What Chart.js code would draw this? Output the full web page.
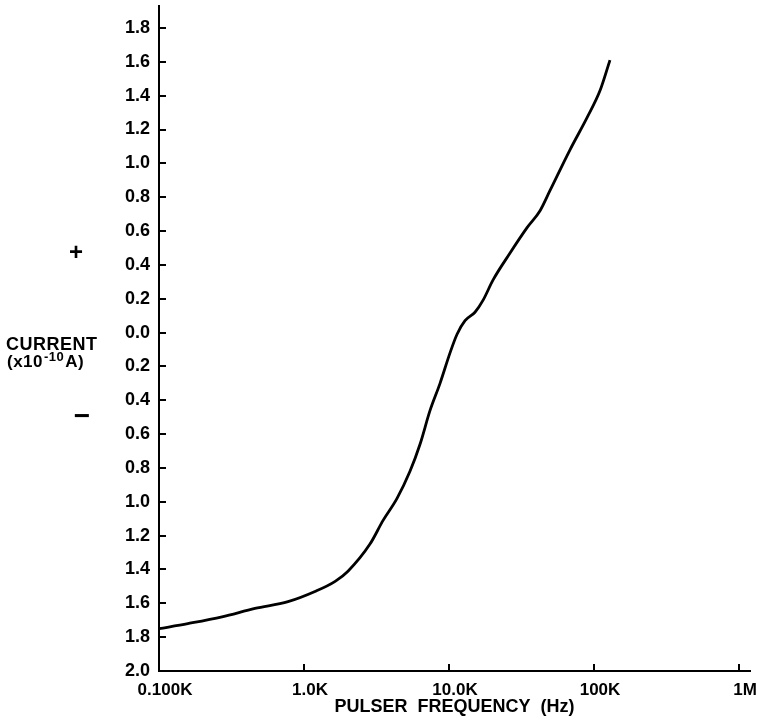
<!DOCTYPE html>
<html>
<head>
<meta charset="utf-8">
<title>Current vs pulser frequency</title>
<script src="https://cdn.jsdelivr.net/npm/chart.js@4.4.1/dist/chart.umd.min.js"></script>
<style>
  html, body { margin: 0; padding: 0; background: #fff; }
  canvas { display: block; }
</style>
</head>
<body>
<canvas id="chart" width="757" height="722"></canvas>
<script>
// Measured current (x10^-10 A; negative below the 0.0 line) versus pulser frequency (Hz)
const freqHz = [100, 158, 272, 459, 776, 1190, 1640, 2010, 2850,
                3510, 4380, 5380, 6310, 7400, 8670, 10160, 11360, 12890, 15100,
                17140, 20090, 26350, 34530, 42430, 49740, 68270, 89500, 110000, 128800];
const currentValues = [-1.75, -1.72, -1.68, -1.63, -1.59, -1.53, -1.47, -1.41, -1.25,
                       -1.11, -0.98, -0.82, -0.66, -0.46, -0.30, -0.12, -0.01, 0.07, 0.12,
                       0.19, 0.31, 0.47, 0.62, 0.72, 0.84, 1.08, 1.27, 1.43, 1.61];

// Axis ticks
const xTickValues = [100, 1000, 10000, 100000, 1000000];
const xTickLabels = ['0.100K', '1.0K', '10.0K', '100K', '1M'];
const yTickValues = [-2.0, -1.8, -1.6, -1.4, -1.2, -1.0, -0.8, -0.6, -0.4, -0.2,
                     0.0, 0.2, 0.4, 0.6, 0.8, 1.0, 1.2, 1.4, 1.6, 1.8];
const yTickLabels = ['2.0', '1.8', '1.6', '1.4', '1.2', '1.0', '0.8', '0.6', '0.4', '0.2',
                     '0.0', '0.2', '0.4', '0.6', '0.8', '1.0', '1.2', '1.4', '1.6', '1.8'];

const FONT = '"Liberation Sans", Arial, Helvetica, sans-serif';

// Side label for the current axis, with the "+" / "−" polarity marks
const currentAxisLabel = {
  id: 'currentAxisLabel',
  afterDraw(chart) {
    const ctx = chart.ctx;
    const y = chart.scales.y;
    ctx.save();
    ctx.fillStyle = '#000';
    ctx.textBaseline = 'alphabetic';
    ctx.textAlign = 'left';
    ctx.letterSpacing = '0.5px';
    ctx.font = 'bold 18px ' + FONT;
    ctx.fillText('CURRENT', 6, 350);
    ctx.font = 'bold 17px ' + FONT;
    let x = 7;
    ctx.fillText('(x10', x, 367);
    x += ctx.measureText('(x10').width + 1;
    ctx.font = 'bold 13px ' + FONT;
    ctx.fillText('-10', x, 361);
    x += ctx.measureText('-10').width + 1;
    ctx.font = 'bold 17px ' + FONT;
    ctx.fillText('A)', x, 367);

    ctx.letterSpacing = '0px';
    ctx.textAlign = 'center';
    ctx.textBaseline = 'middle';
    ctx.font = 'bold 24px ' + FONT;
    ctx.fillText('+', 76, y.getPixelForValue(0.47));
    ctx.font = 'bold 28px ' + FONT;
    ctx.fillText('\u2212', 82, y.getPixelForValue(-0.5));
    ctx.restore();
  }
};

const tickFont = (size) => ({ family: FONT, size: size, weight: 'bold' });

new Chart(document.getElementById('chart'), {
  type: 'line',
  data: {
    datasets: [{
      data: freqHz.map((f, i) => ({ x: f, y: currentValues[i] })),
      borderColor: '#000',
      borderWidth: 2.8,
      pointRadius: 0,
      cubicInterpolationMode: 'monotone',
      fill: false
    }]
  },
  options: {
    responsive: false,
    animation: false,
    devicePixelRatio: 1,
    events: [],
    layout: { padding: { top: 6, right: 7, left: 0, bottom: 0 } },
    plugins: { legend: { display: false }, tooltip: { enabled: false } },
    scales: {
      x: {
        type: 'logarithmic',
        min: 100,
        max: 1.19e6,
        afterBuildTicks: (s) => { s.ticks = xTickValues.map(v => ({ value: v })); },
        afterFit: (s) => { s.height = 51; s.paddingLeft = 0; s.paddingRight = 0; },
        ticks: {
          autoSkip: false, maxRotation: 0, minRotation: 0,
          padding: 16, labelOffset: 6, color: '#000', font: tickFont(17),
          callback: (v, i) => xTickLabels[i]
        },
        grid: { drawOnChartArea: false, drawTicks: true, tickLength: -7, color: '#000', lineWidth: 2 },
        border: { display: true, color: '#000', width: 2 },
        title: {
          display: true, text: 'PULSER  FREQUENCY  (Hz)', color: '#000',
          font: tickFont(18), padding: { top: 0, bottom: 4 }
        }
      },
      y: {
        type: 'linear',
        min: -2.0,
        max: 1.93,
        afterBuildTicks: (s) => { s.ticks = yTickValues.map(v => ({ value: v })); },
        afterFit: (s) => { s.width = 159; s.paddingTop = 0; s.paddingBottom = 0; },
        ticks: {
          autoSkip: false, padding: 16, color: '#000', font: tickFont(18),
          callback: (v, i) => yTickLabels[i]
        },
        grid: { drawOnChartArea: false, drawTicks: true, tickLength: -7, color: '#000', lineWidth: 2 },
        border: { display: true, color: '#000', width: 2 }
      }
    }
  },
  plugins: [currentAxisLabel]
});
</script>
</body>
</html>
